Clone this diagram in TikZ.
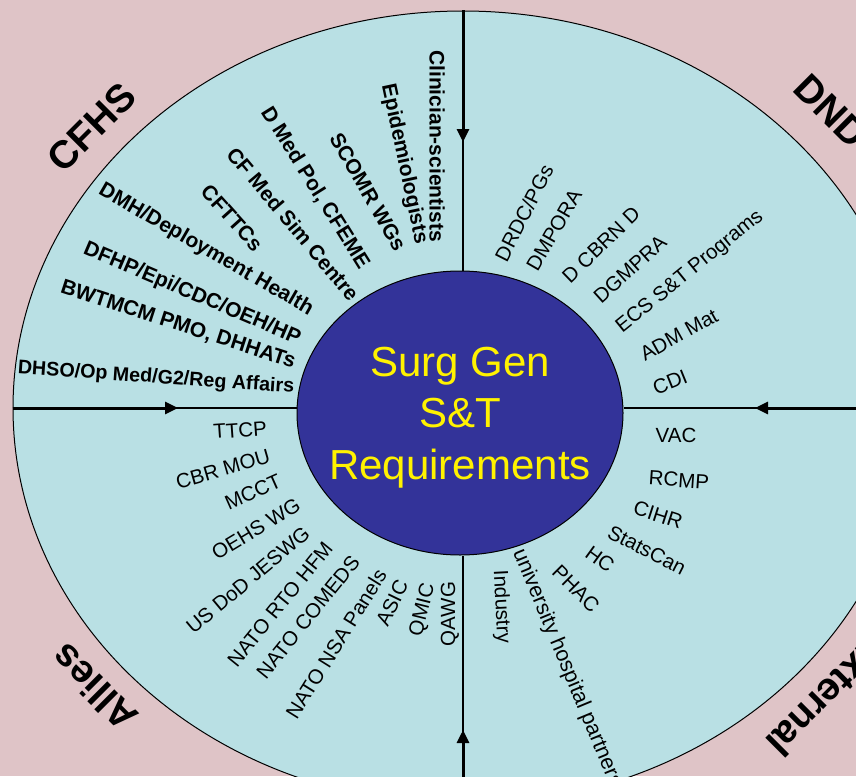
\documentclass[tikz,border=0pt]{standalone}
\usepackage{fontspec}
\setmainfont{Liberation Sans}
\usetikzlibrary{shapes.geometric,arrows.meta}
\definecolor{bgpink}{HTML}{DFC4C7}
\definecolor{ringblue}{HTML}{B9E0E4}
\definecolor{coreblue}{HTML}{333399}

\begin{document}
\begin{tikzpicture}[x=1pt, y=-1pt]

	%% Background and page size
	\fill[bgpink] (0,0) rectangle (856,776);
	\useasboundingbox (0,0) rectangle (856,776);

	%% The outer ring and the core
	\node[draw, ellipse, fill=ringblue, line width=1pt, minimum width=900pt, minimum height=794pt, inner sep=0pt] (ring) at (463,408) {};
	\node[draw, ellipse, fill=coreblue, line width=1pt, minimum width=326pt, minimum height=284pt, inner sep=0pt] (req) at (460,413) {};
	\node[text=yellow, align=center, font=\fontsize{42}{51.5}\selectfont, inner sep=0pt] (req-text) at (460,417.5) {Surg Gen\\S\&T\\Requirements};

	%% Arrow tips on the four axes
	\coordinate (tip-n) at (463,142);
	\coordinate (tip-w) at (178,408);
	\coordinate (tip-e) at (755,408);
	\coordinate (tip-s) at (463,730);

	%% Thin axes from the ring to the core
	\begin{scope}[line width=1.2pt]
		\draw (ring.north) -- (ring.north |- req.north);
		\draw (ring.south) -- (ring.south |- req.south);
		\draw (ring.west) -- (ring.west -| req.west);
		\draw (ring.east) -- (ring.east -| req.east);
	\end{scope}

	%% Thick part with the arrow head
	\begin{scope}[line width=3pt, -{Triangle[length=13pt,width=12pt]}]
		\draw (ring.north) -- (tip-n);
		\draw (ring.south) -- (tip-s);
		\draw (ring.west) -- (tip-w);
		\draw (ring.east) -- (tip-e);
	\end{scope}

	%% Quadrant titles
	\begin{scope}[every node/.style={font=\fontsize{39}{46}\selectfont\bfseries, inner sep=0pt}]
		\node[rotate=45] (cfhs) at (92,127) {CFHS};
		\node[rotate=-45] (dnd) at (831,111) {DND};
		\node[rotate=135] (allies) at (94,688) {Allies};
		\node[rotate=-135] (ext) at (828,696) {External};
	\end{scope}

	%% CFHS quadrant (bold)
	\begin{scope}[every node/.style={font=\fontsize{21}{25}\selectfont\bfseries, inner sep=0pt}]
		\foreach [count=\i] \x/\y/\a/\t in {437/146/-90/Clinician-scientists, 404/164/-78/Epidemiologists,
			368/192/-60/SCOMR WGs, 315/188/-58/{D Med Pol, CFEME}, 293/224/-50/CF Med Sim Centre,
			232/218/-48/CFTTCs, 206/250/-30/{DMH/Deployment Health}, 192/294/-23/{DFHP/Epi/CDC/OEH/HP},
			178/325/-18/{BWTMCM PMO, DHHATs}}{%
			\node[rotate=\a] (cfhs-\i) at (\x,\y) {\t};
		}
		\node[rotate=-4, font=\fontsize{19.7}{24}\selectfont\bfseries] (cfhs-10) at (156,378) {DHSO/Op Med/G2/Reg Affairs};
	\end{scope}

	%% The other three quadrants
	\begin{scope}[every node/.style={font=\fontsize{20.5}{24}\selectfont, inner sep=0pt}]
		\foreach [count=\i] \x/\y/\a/\t in {524/213/63/{DRDC/PGs}, 554/230/60/DMPORA, 601/245/44/D CBRN D,
			630/269/42/DGMPRA, 690/272/39/ECS S\&T Programs, 679/335/29/ADM Mat, 670/382/22/CDI}{%
			\node[rotate=\a] (dnd-\i) at (\x,\y) {\t};
		}
		\foreach [count=\i] \x/\y/\a/\t in {240/430/4/TTCP, 223/469/16/CBR MOU, 253/492/24/MCCT,
			256/529/31/OEHS WG, 248/580/40/US DoD JESWG, 280/604/51/NATO RTO HFM, 308/617/51/NATO COMEDS,
			336/644/58/NATO NSA Panels, 392/603/64/ASIC, 423/610/76/QMIC, 450/614/90/QAWG}{%
			\node[rotate=\a] (allies-\i) at (\x,\y) {\t};
		}
		\foreach [count=\i] \x/\y/\a/\t in {676/435/0/VAC, 679/480/-4/RCMP, 658/515/-18/CIHR,
			647/550/-27/StatsCan, 600/559/-36/HC, 576/589/-45/PHAC, 501/607/-87/Industry}{%
			\node[rotate=\a] (ext-\i) at (\x,\y) {\t};
		}
		\node[rotate=-67.5, anchor=west, font=\fontsize{21.5}{25}\selectfont] (ext-8) at (518,550) {university hospital partners};
	\end{scope}

\end{tikzpicture}
\end{document}
